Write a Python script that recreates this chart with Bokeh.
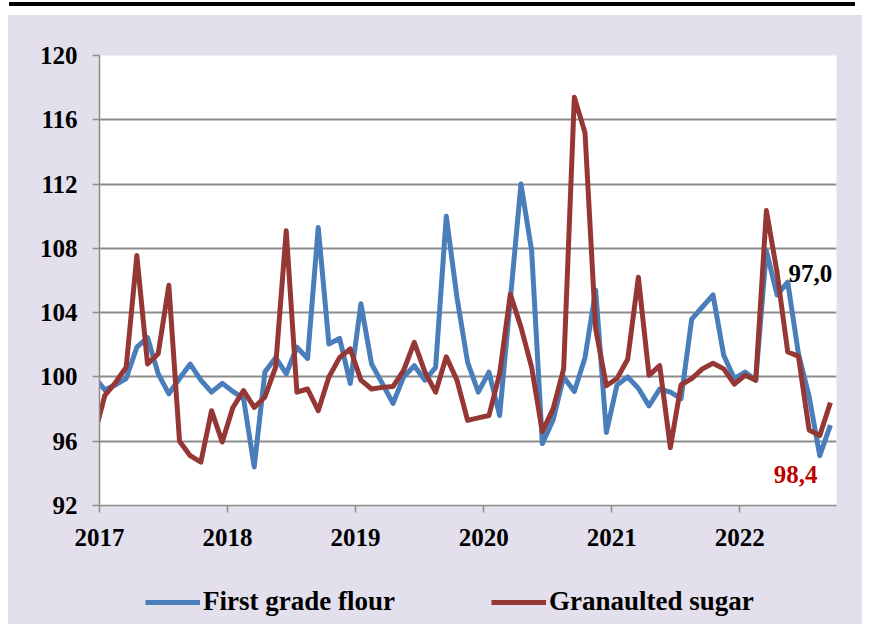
import pandas as pd
from bokeh.plotting import figure
from bokeh.models import (Range1d, FixedTicker, Legend, LegendItem, Div, Spacer, ColumnDataSource)
from bokeh.layouts import column, row
from bokeh.core.properties import value
from bokeh.embed import file_html
from bokeh.resources import INLINE

# ---------------- data ----------------
months = [str(p) for p in pd.period_range("2016-12", "2022-09", freq="M")]

flour = [100.0,
         99.2, 99.5, 99.9, 101.85, 102.45, 100.2, 98.95, 99.9, 100.8, 99.8, 99.05, 99.6,
         99.1, 98.65, 94.4, 100.3, 101.2, 100.2, 101.85, 101.15, 109.3, 102.05, 102.4, 99.6,
         104.55, 100.8, 99.6, 98.35, 100.0, 100.7, 99.8, 100.6, 110.0, 104.95, 100.9, 99.05,
         100.3, 97.6, 104.8, 112.0, 107.85, 95.85, 97.3, 100.0, 99.1, 101.2, 105.4, 96.55,
         99.5, 100.0, 99.3, 98.2, 99.25, 99.05, 98.65, 103.6, 104.35, 105.1, 101.35, 99.9,
         100.3, 99.8, 107.85, 105.1, 105.9, 101.45, 98.8, 95.1, 97.0]

sugar = [96.3,
         98.85, 99.65, 100.6, 107.55, 100.8, 101.45, 105.7, 96.0, 95.1, 94.7, 97.9, 95.95,
         98.1, 99.15, 98.1, 98.75, 100.6, 109.1, 99.05, 99.25, 97.9, 100.0, 101.2, 101.75,
         99.8, 99.25, 99.35, 99.4, 100.4, 102.15, 100.3, 99.05, 101.25, 99.8, 97.3, 97.45,
         97.6, 100.2, 105.15, 103.1, 100.6, 96.6, 98.0, 100.5, 117.4, 115.2, 103.0, 99.45,
         99.9, 101.1, 106.2, 100.1, 100.7, 95.6, 99.5, 99.9, 100.5, 100.85, 100.5, 99.55,
         100.1, 99.8, 110.35, 106.5, 101.55, 101.3, 96.7, 96.35, 98.4]

years = ["2017", "2018", "2019", "2020", "2021", "2022"]
y_ticks = [92, 96, 100, 104, 108, 112, 116, 120]
series_names = ["First grade flour", "Granaulted sugar"]
end_labels = ["97,0", "98,4"]

# month positions: mid-month, 0 = 1 Jan 2017
def month_pos(m):
    y, mo = m.split("-")
    return (int(y) - 2017) * 12 + (int(mo) - 1) + 0.5

x = [month_pos(m) for m in months]
year_pos = [(int(yy) - 2017) * 12 for yy in years]

src = ColumnDataSource(dict(x=x, flour=flour, sugar=sugar))

# ---------------- styles ----------------
BLUE = "#4A7EBB"
RED = "#953735"
LAV = "#E4DFEC"
GRID = "#8C8C8C"
FONT = "Liberation Serif"

W = 854
H1, H2 = 550, 59

p = figure(width=W, height=H1, output_backend="svg", toolbar_location=None,
           x_range=Range1d(0, 69.07), y_range=Range1d(92, 120),
           min_border_left=91, min_border_right=26, min_border_top=40, min_border_bottom=60)
p.margin = 0
p.frame_align = False
p.border_fill_color = LAV
p.background_fill_color = "white"
p.outline_line_color = None

r1 = p.line("x", "flour", source=src, line_color=BLUE, line_width=5, line_join="round")
r2 = p.line("x", "sugar", source=src, line_color=RED, line_width=5, line_join="round")

# axes
p.xaxis.ticker = FixedTicker(ticks=year_pos)
p.xaxis.major_label_overrides = {pos: lab for pos, lab in zip(year_pos, years)}
p.yaxis.ticker = FixedTicker(ticks=y_ticks)
for ax in (p.xaxis[0], p.yaxis[0]):
    ax.axis_line_color = GRID
    ax.axis_line_width = 1.5
    ax.major_tick_line_color = GRID
    ax.major_tick_line_width = 1.5
    ax.major_tick_in = 0
    ax.major_tick_out = 7
    ax.minor_tick_line_color = None
    ax.major_label_text_font = FONT
    ax.major_label_text_font_style = "bold"
    ax.major_label_text_font_size = "25px"
    ax.major_label_text_color = "black"
p.yaxis.major_label_standoff = 15
p.xaxis.major_label_standoff = 16

p.xgrid.grid_line_color = None
p.ygrid.grid_line_color = GRID
p.ygrid.grid_line_width = 2

# end labels
p.text(x=[64.57], y=[106.43], text=[end_labels[0]], text_color="black",
       text_font=value(FONT), text_font_style="bold", text_font_size="25px",
       text_align="left", text_baseline="middle")
p.text(x=[65.23], y=[93.93], text=[end_labels[1]], text_color="#C00000",
       text_font=value(FONT), text_font_style="bold", text_font_size="25px",
       text_align="center", text_baseline="middle")

# legend strip (separate lavender panel below the chart)
p2 = figure(width=W, height=H2, output_backend="svg", toolbar_location=None,
            x_range=Range1d(0, 1), y_range=Range1d(0, 1),
            x_axis_type=None, y_axis_type=None,
            min_border=0, min_border_left=0, min_border_right=0,
            min_border_top=0, min_border_bottom=0)
p2.margin = 0
p2.frame_align = False
p2.border_fill_color = LAV
p2.background_fill_color = LAV
p2.outline_line_color = None
p2.grid.visible = False
# legend keys only: their points lie outside the visible range
k1 = p2.line(x=[-5, -4], y=[-5, -5], line_color=BLUE, line_width=5)
k2 = p2.line(x=[-5, -4], y=[-5, -5], line_color=RED, line_width=5)
lg = Legend(items=[LegendItem(label=series_names[0], renderers=[k1]),
                   LegendItem(label=series_names[1], renderers=[k2])],
            location=(137, 7), orientation="horizontal",
            background_fill_alpha=0, border_line_color=None,
            padding=0, margin=0, spacing=96, glyph_width=55, glyph_height=30, label_height=30,
            label_standoff=3, label_text_font=FONT, label_text_font_style="bold",
            label_text_font_size="27px", label_text_color="black")
p2.add_layout(lg, "center")

top = Div(text='<div style="position:absolute;top:2px;left:9px;width:846px;height:4px;background:black;"></div>',
          width=883, height=15, margin=0, styles={"background-color": "white", "position": "relative"})

charts = column(p, p2, spacing=0, margin=0, styles={"background-color": LAV})
layout = column(top,
                row(Spacer(width=8, height=H1 + H2, margin=0), charts, spacing=0, margin=0),
                spacing=0, margin=0)
open("out.html", "w").write(file_html(layout, INLINE))
